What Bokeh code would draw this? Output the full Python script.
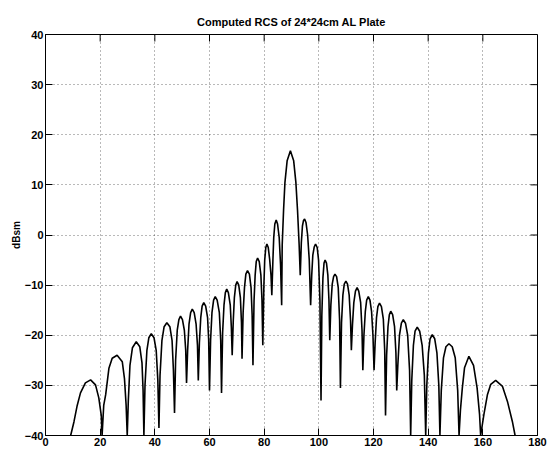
from bokeh.plotting import figure
from bokeh.models import Range1d, FixedTicker, Title
from bokeh.embed import file_html
from bokeh.resources import INLINE

# ---- data ----
angle_deg = [
    9.2, 10.4, 11.6, 12.8, 14.6, 16.5, 18.3, 19.5, 20.4, 20.7,
    21.3, 22.0, 23.2, 24.4, 26.2, 28.1, 28.9, 29.5, 29.9,
    30.3, 30.9, 31.8, 33.2, 34.5, 35.3, 35.7, 36.0,
    36.4, 37.1, 37.8, 38.7, 39.7, 40.5, 41.1, 41.5,
    41.9, 42.6, 43.4, 44.4, 45.5, 46.3, 46.8, 47.2,
    47.6, 48.2, 48.8, 49.4, 50.1, 50.8, 51.3, 51.6,
    52.0, 52.5, 53.1, 53.7, 54.4, 55.1, 55.6, 55.9,
    56.3, 56.8, 57.3, 57.9, 58.6, 59.3, 59.7, 60.0,
    60.4, 60.9, 61.5, 62.1, 62.8, 63.6, 64.1, 64.4,
    64.8, 65.3, 65.8, 66.3, 66.9, 67.6, 68.0, 68.3,
    68.7, 69.1, 69.6, 70.1, 70.7, 71.3, 71.7, 71.9,
    72.3, 72.8, 73.3, 73.9, 74.6, 75.2, 75.6, 75.9,
    76.3, 76.7, 77.1, 77.6, 78.2, 78.8, 79.2, 79.5,
    79.9, 80.2, 80.6, 81.0, 81.5, 82.0, 82.5, 82.8,
    83.2, 83.5, 83.9, 84.4, 84.9, 85.5, 86.0, 86.4,
    86.6, 87.1, 87.6, 88.4, 89.6, 90.8, 91.6, 92.2, 92.8, 93.2,
    93.6, 94.0, 94.4, 94.8, 95.3, 95.9, 96.5, 97.0,
    97.4, 97.8, 98.3, 98.8, 99.4, 99.9, 100.4, 100.8,
    101.1, 101.5, 101.9, 102.3, 102.8, 103.3, 103.7, 104.0,
    104.4, 104.9, 105.4, 105.9, 106.5, 107.1, 107.6, 107.9,
    108.3, 108.8, 109.3, 109.9, 110.5, 111.1, 111.6, 111.9,
    112.3, 112.8, 113.4, 114.0, 114.6, 115.3, 115.8, 116.1,
    116.5, 117.0, 117.5, 118.1, 118.7, 119.3, 119.8, 120.2,
    120.6, 121.1, 121.6, 122.2, 122.9, 123.6, 124.1, 124.4,
    124.8, 125.3, 125.8, 126.3, 127.0, 127.7, 128.2, 128.5,
    128.9, 129.5, 130.2, 130.9, 131.7, 132.5, 133.2, 133.6,
    134.0, 134.6, 135.2, 136.0, 136.9, 137.8, 138.6, 139.1,
    139.5, 140.1, 140.7, 141.5, 142.4, 143.2, 143.9, 144.3,
    144.8, 145.6, 146.5, 147.6, 148.8, 149.9, 150.8, 151.3,
    151.8, 152.5, 153.3, 154.9, 156.6, 157.9, 158.8, 159.2,
    160.4, 161.7, 162.9, 164.7, 167.2, 169.0, 170.8, 171.8,
]
rcs_dbsm = [
    -40, -37.3, -34, -31.5, -29.5, -28.9, -29.9, -32.5, -36, -40,
    -34, -31.9, -26.6, -24.6, -24, -25.3, -28.7, -34, -40,
    -33, -26, -22.5, -21.3, -22.3, -25.5, -31, -40,
    -30, -23, -20.5, -19.7, -20.5, -23, -29, -38.5,
    -28, -21, -18.3, -17.5, -18.3, -21, -27, -35.5,
    -25, -19, -16.9, -16.2, -16.9, -19, -23, -29.5,
    -23, -17.8, -15.5, -14.8, -15.5, -17.8, -22, -29,
    -21.5, -16.5, -14.2, -13.5, -14.2, -16.5, -21, -31,
    -21, -15.5, -13, -12.3, -13, -15.5, -21, -31.5,
    -19.5, -14, -11.5, -10.8, -11.5, -14, -18.5, -24,
    -17, -12.5, -10, -9.3, -10, -12.5, -17.5, -24.7,
    -15.5, -10.5, -7.8, -7.1, -7.8, -10.5, -16, -26,
    -13, -8, -5.3, -4.6, -5.3, -8, -13, -22,
    -10, -5, -2.5, -1.8, -2.5, -4.8, -8, -12,
    -5, -0.5, 2.2, 3.0, 2.2, -0.5, -6, -14,
    -2, 5, 10.5, 14.8, 16.8, 14.8, 10.5, 5, -2, -8,
    -1.5, 1.8, 2.9, 3.2, 2.5, 0, -5, -14,
    -8, -4, -2.4, -1.8, -2.5, -5, -13, -33,
    -16, -8.5, -5.6, -5.0, -5.6, -8, -13, -21,
    -14, -9.8, -8.3, -7.8, -8.3, -10.5, -17, -30.5,
    -17.5, -12, -9.8, -9.2, -9.8, -12, -17, -23,
    -18, -13.5, -11.2, -10.5, -11.2, -13.5, -19, -27,
    -20, -15.3, -13, -12.3, -13, -15.3, -20, -27,
    -21.5, -16.5, -14.3, -13.6, -14.3, -16.8, -23, -36,
    -24, -18.3, -15.9, -15.2, -15.9, -18.3, -23.5, -31,
    -26, -20, -17.6, -16.9, -17.6, -20, -27, -40,
    -29, -22, -19.2, -18.4, -19.2, -22, -28, -40,
    -30, -23.5, -20.7, -19.9, -20.7, -23.5, -30, -40,
    -31, -24.5, -22.3, -21.7, -22.3, -24.5, -31, -40,
    -35, -30.5, -26.5, -24.2, -26, -30.5, -35.8, -40,
    -35.8, -31.8, -29.8, -29, -30.2, -33.2, -37.2, -40,
]
x_ticks = [0, 20, 40, 60, 80, 100, 120, 140, 160, 180]
y_ticks = [-40, -30, -20, -10, 0, 10, 20, 30, 40]
title_text = "Computed RCS of 24*24cm AL Plate"
y_label_text = "dBsm"

FONT = "Liberation Sans"
X0, X1 = x_ticks[0], x_ticks[-1]
Y0, Y1 = y_ticks[0], y_ticks[-1]
FW, FH = 492, 401
TICK_PX = 7

p = figure(
    frame_width=FW, frame_height=FH,
    min_border_left=45, min_border_top=34, min_border_right=10, min_border_bottom=18,
    x_range=Range1d(X0, X1), y_range=Range1d(Y0, Y1),
    output_backend="svg", toolbar_location=None,
    background_fill_color="white", border_fill_color="white",
)
p.outline_line_color = "black"
p.outline_line_width = 1

p.title.text = title_text
p.title.align = "center"
p.title.text_font = FONT
p.title.text_font_size = "11px"
p.title.text_font_style = "bold"
p.title.text_color = "black"
p.title.offset = 0
p.title.standoff = 14

for ax, ticks in ((p.xaxis[0], x_ticks), (p.yaxis[0], y_ticks)):
    ax.ticker = FixedTicker(ticks=ticks)
    ax.major_tick_in = TICK_PX
    ax.major_tick_out = 0
    ax.minor_tick_line_color = None
    ax.axis_line_color = "black"
    ax.major_tick_line_color = "black"
    ax.major_label_text_font = FONT
    ax.major_label_text_font_size = "11px"
    ax.major_label_text_font_style = "bold"
    ax.major_label_text_color = "black"
    ax.major_label_standoff = 2

p.add_layout(Title(text=y_label_text, align="center", text_font=FONT,
                   text_font_size="10px", text_font_style="bold",
                   text_color="black", standoff=0, offset=0), "left")

p.xgrid.ticker = FixedTicker(ticks=x_ticks)
p.ygrid.ticker = FixedTicker(ticks=y_ticks)
for g in (p.xgrid, p.ygrid):
    g.grid_line_color = "black"
    g.grid_line_alpha = 0.55
    g.grid_line_dash = "1 3"
    g.grid_line_width = 1

# mirrored inward ticks on the top and right edges of the box
dy = TICK_PX * (Y1 - Y0) / FH
dx = TICK_PX * (X1 - X0) / FW
p.segment(x0=x_ticks, y0=[Y1] * len(x_ticks), x1=x_ticks, y1=[Y1 - dy] * len(x_ticks),
          line_color="black", line_width=1)
p.segment(x0=[X1] * len(y_ticks), y0=y_ticks, x1=[X1 - dx] * len(y_ticks), y1=y_ticks,
          line_color="black", line_width=1)

p.line(angle_deg, rcs_dbsm, line_color="black", line_width=1.6)

open("out.html", "w").write(file_html(p, INLINE))
